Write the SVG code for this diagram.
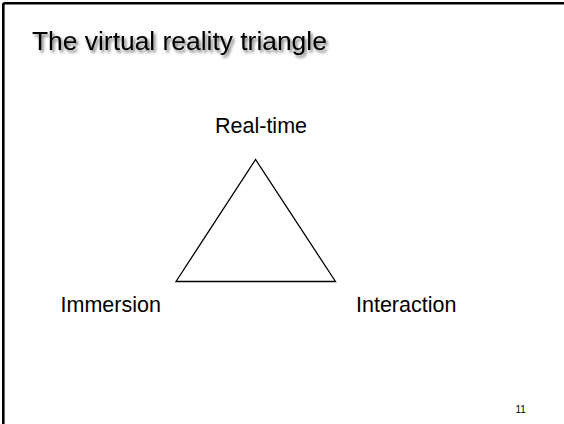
<svg xmlns="http://www.w3.org/2000/svg" width="564" height="424" viewBox="0 0 564 424">
<defs>
<filter id="sh" x="-10%" y="-30%" width="120%" height="160%">
<feDropShadow dx="2" dy="2.5" stdDeviation="1.5" flood-color="#000" flood-opacity="0.55"/>
</filter>
<style>
.t{font-family:"Liberation Sans",Arial,sans-serif;fill:#000}
.lbl{font-size:21.5px}
</style>
</defs>
<rect width="564" height="424" fill="#fff"/>
<g id="frame" stroke="#000" stroke-width="2.6" fill="none">
<line x1="3.3" y1="3.3" x2="564" y2="3.3"/>
<line x1="3.3" y1="3.3" x2="3.3" y2="424"/>
</g>
<text id="title" class="t" x="32" y="50" font-size="26.4" filter="url(#sh)">The virtual reality triangle</text>
<g id="connectors">
<polygon points="255.5,159.5 176,281.5 335.5,281.5" fill="none" stroke="#000" stroke-width="1.3" stroke-linejoin="miter"/>
</g>
<g id="realtime"><text class="t lbl" x="261" y="132.7" text-anchor="middle">Real-time</text></g>
<g id="immersion"><text class="t lbl" x="60.5" y="311.5">Immersion</text></g>
<g id="interaction"><text class="t lbl" x="356" y="311.5">Interaction</text></g>
<text id="page" class="t" x="515.5" y="413" font-size="10" fill="#333">11</text>
</svg>
